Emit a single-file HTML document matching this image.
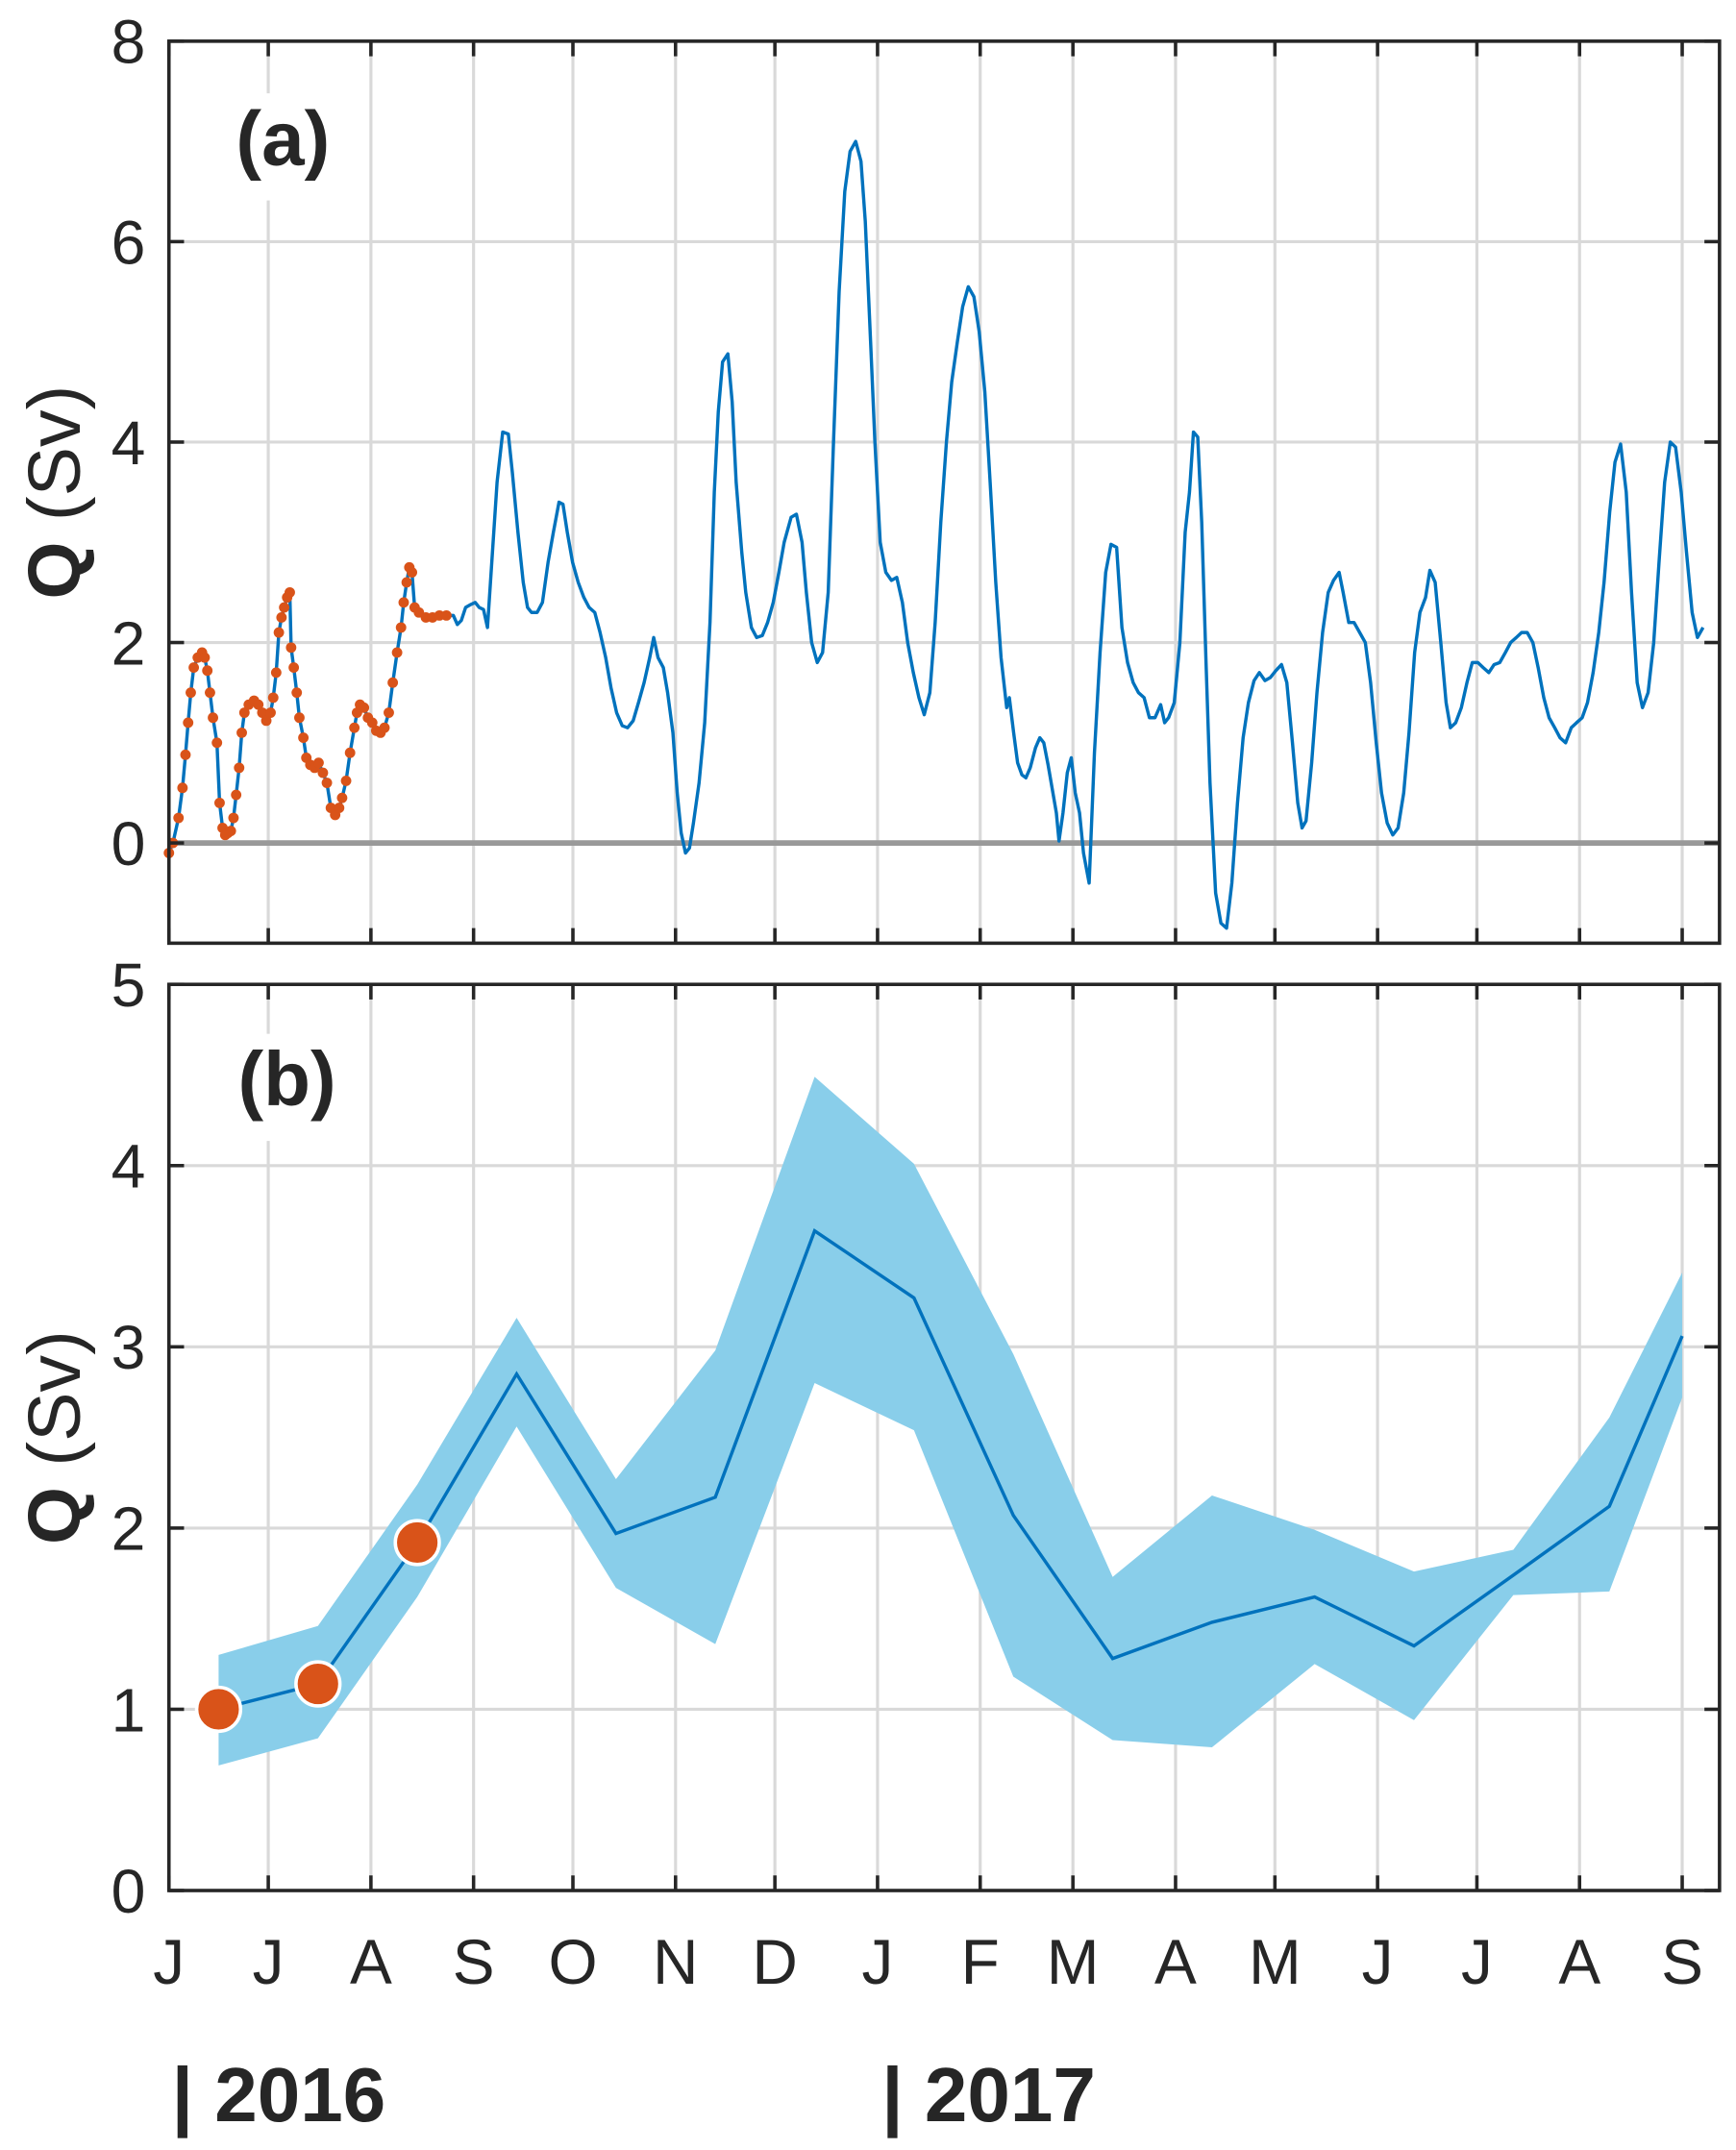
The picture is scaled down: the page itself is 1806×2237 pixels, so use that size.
<!DOCTYPE html>
<html><head><meta charset="utf-8"><style>
html,body{margin:0;padding:0;background:#fff;}
svg{display:block;}
text{font-family:"Liberation Sans",Arial,sans-serif;fill:#262626;}
</style></head><body>
<svg id="chart" xmlns="http://www.w3.org/2000/svg" width="1806" height="2237" viewBox="0 0 1264 1566" preserveAspectRatio="none">
<g id="gA"></g>
<g id="gB"></g>
<g id="gX"></g>
</svg>
<script>
// ---- data (days since 1 Jun 2016) ----
const monthDays = [0,30,61,92,122,153,183,214,245,273,304,334,365,395,426,457];
const monthLabels = ["J","J","A","S","O","N","D","J","F","M","A","M","J","J","A","S"];
const yTicksA = [0,2,4,6,8];
const yTicksB = [0,1,2,3,4,5];
const obsCutoffDay = 84;
const dailyDays = [0,1.2,2.9,4.1,5.0,5.8,6.6,7.5,8.7,10.0,10.8,11.6,12.4,13.3,14.5,15.3,16.2,17.0,17.8,18.7,19.5,20.3,21.2,22.0,22.8,24.1,25.7,27.0,28.2,29.4,30.7,31.5,32.4,33.2,34.0,34.8,35.7,36.5,36.9,37.7,38.6,39.4,40.6,41.5,42.7,44.0,45.2,46.5,47.7,48.9,50.2,51.4,52.3,53.5,54.7,56.0,56.8,57.7,58.9,60.1,61.4,62.6,63.9,65.1,66.4,67.6,68.9,70.1,70.9,71.8,72.6,73.4,74.2,75.5,77.6,79.6,81.7,83.8,
85.9,87.1,88.3,89.6,91.2,92.5,93.7,95.0,96.2,97.5,99.1,100.8,102.5,103.7,105.4,107.0,108.3,109.5,111.2,112.8,114.5,116.1,117.8,119.0,120.3,121.9,123.6,125.3,126.9,128.6,130.2,131.9,133.5,135.2,136.9,138.5,140.2,141.8,143.5,145.2,146.4,147.7,149.3,150.6,152.2,153.5,154.7,156.0,157.2,158.4,160.1,161.8,163.4,164.7,165.9,167.2,168.8,170.1,171.3,173.0,174.2,175.9,177.5,179.2,180.8,182.5,184.2,185.8,187.9,189.5,191.2,192.5,194.1,195.8,197.4,199.1,200.7,202.4,204.1,205.7,207.4,209.0,210.3,211.9,213.2,214.8,216.5,218.2,219.8,221.5,223.1,224.8,226.5,228.1,229.8,231.4,233.1,234.8,236.4,238.1,239.7,241.4,243.1,244.7,246.4,248.0,249.7,251.3,253.0,253.8,255.1,256.3,257.6,258.8,260.1,261.7,263.0,264.2,265.5,266.7,268.0,268.8,270.0,271.3,272.5,273.7,275.0,276.2,277.9,279.5,281.2,282.9,284.5,286.2,287.8,289.5,291.2,292.8,294.5,296.1,297.8,299.5,300.7,301.9,303.6,305.3,306.9,308.2,309.4,310.7,311.9,313.2,314.4,316.1,317.7,319.4,321.0,322.7,324.4,326.0,327.7,329.3,331.0,332.6,334.3,336.0,337.6,339.3,340.9,342.2,343.4,345.1,346.7,348.4,350.1,351.7,353.4,354.6,356.3,357.9,359.6,361.3,362.9,364.6,366.2,367.9,369.6,371.2,372.9,374.5,376.2,377.8,379.5,380.8,382.4,384.1,385.7,387.0,388.6,390.3,392.0,393.6,395.3,396.9,398.6,400.2,401.9,403.6,405.2,406.9,408.5,410.2,411.9,413.5,415.2,416.8,418.5,420.1,421.8,423.5,425.1,426.8,428.4,430.1,431.8,433.4,435.1,436.7,438.4,440.1,441.7,443.4,445.0,446.7,448.4,450.0,451.7,453.4,455.0,456.7,458.3,460.0,461.6,463.3];
const dailyQ = [-0.1,0.0,0.25,0.55,0.88,1.2,1.5,1.75,1.85,1.9,1.85,1.72,1.5,1.25,1.0,0.4,0.15,0.08,0.1,0.12,0.25,0.48,0.75,1.1,1.3,1.38,1.42,1.38,1.3,1.22,1.3,1.45,1.7,2.1,2.25,2.35,2.45,2.5,1.95,1.75,1.5,1.25,1.05,0.85,0.78,0.75,0.8,0.7,0.6,0.35,0.28,0.35,0.45,0.62,0.9,1.15,1.3,1.38,1.35,1.25,1.2,1.12,1.1,1.15,1.3,1.6,1.9,2.15,2.4,2.6,2.75,2.7,2.35,2.3,2.25,2.25,2.27,2.27,
2.27,2.18,2.22,2.35,2.38,2.4,2.35,2.33,2.15,2.8,3.6,4.1,4.08,3.7,3.1,2.6,2.35,2.3,2.3,2.4,2.8,3.1,3.4,3.38,3.1,2.8,2.6,2.45,2.35,2.3,2.1,1.85,1.55,1.3,1.17,1.15,1.22,1.4,1.6,1.85,2.05,1.85,1.75,1.5,1.1,0.5,0.1,-0.1,-0.05,0.2,0.6,1.2,2.2,3.5,4.3,4.8,4.88,4.4,3.6,2.9,2.5,2.15,2.05,2.07,2.2,2.4,2.7,3.0,3.25,3.28,3.0,2.5,2.0,1.8,1.9,2.5,4.0,5.5,6.5,6.9,7.0,6.8,6.2,5.0,4.0,3.0,2.7,2.62,2.65,2.4,2.0,1.7,1.45,1.28,1.5,2.2,3.2,4.0,4.6,5.0,5.35,5.55,5.45,5.1,4.5,3.6,2.6,1.85,1.35,1.45,1.1,0.8,0.68,0.65,0.75,0.95,1.05,1.0,0.78,0.55,0.3,0.02,0.3,0.7,0.85,0.5,0.3,-0.1,-0.4,0.9,1.9,2.7,2.98,2.95,2.15,1.8,1.6,1.5,1.45,1.25,1.25,1.38,1.2,1.25,1.4,2.0,3.1,3.5,4.1,4.05,3.2,1.8,0.6,-0.5,-0.8,-0.85,-0.4,0.4,1.05,1.4,1.62,1.7,1.62,1.65,1.72,1.78,1.6,1.0,0.4,0.15,0.22,0.8,1.5,2.1,2.5,2.62,2.7,2.5,2.2,2.2,2.1,2.0,1.6,1.0,0.5,0.2,0.08,0.15,0.5,1.1,1.9,2.3,2.45,2.72,2.6,2.0,1.4,1.15,1.2,1.35,1.6,1.8,1.8,1.75,1.7,1.78,1.8,1.9,2.0,2.05,2.1,2.1,2.0,1.75,1.45,1.25,1.15,1.05,1.0,1.15,1.2,1.25,1.4,1.7,2.1,2.6,3.3,3.8,3.98,3.5,2.5,1.6,1.35,1.5,2.0,2.8,3.6,4.0,3.95,3.5,2.9,2.3,2.05,2.15];
const monthlyDays = [15,45,75,105,135,165,195,225,255,285,315,346,376,406,435,457];
const monthlyMean = [1.0,1.14,1.92,2.85,1.97,2.17,3.64,3.27,2.07,1.28,1.48,1.62,1.35,1.74,2.12,3.06];
const monthlyUpper = [1.30,1.46,2.24,3.16,2.27,2.98,4.49,4.01,2.96,1.73,2.18,1.99,1.76,1.88,2.61,3.41];
const monthlyLower = [0.69,0.84,1.62,2.56,1.67,1.36,2.80,2.54,1.18,0.83,0.79,1.25,0.94,1.63,1.65,2.72];
const obsMonthlyDays = [15,45,75];
const obsMonthlyQ = [1.0,1.14,1.92];

const NS="http://www.w3.org/2000/svg";
const L=123,R=1252;
const xs=d=>L+d*2.411;
const yA=v=>30+(8-v)*73;
const yB=v=>717+(5-v)*132;
function mk(tag,attrs,parent){const e=document.createElementNS(NS,tag);for(const k in attrs)e.setAttribute(k,attrs[k]);parent.appendChild(e);return e;}
const gA=document.getElementById('gA'),gB=document.getElementById('gB'),gX=document.getElementById('gX');

function frame(g,top,bot,yf,ticks,name){
  monthDays.forEach(d=>{const x=xs(d);
    const gl=mk('line',{x1:x,x2:x,y1:top,y2:bot,stroke:'#d9d9d9','stroke-width':2.2},g);
    
    });
  ticks.forEach(v=>{const y=yf(v);
    const gl=mk('line',{x1:L,x2:R,y1:y,y2:y,stroke:'#d9d9d9','stroke-width':2.2},g);
    
    });
}
function axes(g,top,bot,yf,ticks,name){
  monthDays.forEach(d=>{const x=xs(d);
    mk('line',{x1:x,x2:x,y1:bot,y2:bot-11,stroke:'#262626','stroke-width':2.5},g);
    mk('line',{x1:x,x2:x,y1:top,y2:top+11,stroke:'#262626','stroke-width':2.5},g);});
  ticks.forEach(v=>{const y=yf(v);
    mk('line',{x1:L,x2:L+11,y1:y,y2:y,stroke:'#262626','stroke-width':2.5},g);
    mk('line',{x1:R,x2:R-11,y1:y,y2:y,stroke:'#262626','stroke-width':2.5},g);
    const t=mk('text',{x:106,y:y+16,'text-anchor':'end','font-size':45},g);t.textContent=v;
    
    });
  const fr=mk('rect',{x:L,y:top,width:R-L,height:bot-top,fill:'none',stroke:'#262626','stroke-width':2.5},g);
  
  
  const yl=mk('text',{transform:`translate(58,${(top+bot)/2}) rotate(-90)`,'text-anchor':'middle','font-size':54},g);
  yl.innerHTML='<tspan font-weight="bold">Q</tspan> (Sv)';
  
  
}

// Panel A
frame(gA,30,687,yA,yTicksA,'panel-a');
const zl=mk('line',{x1:L,x2:R,y1:yA(0),y2:yA(0),stroke:'#999','stroke-width':4},gA);


const la=mk('rect',{x:160,y:68,width:95,height:78,fill:'#fff'},gA);
const ta=mk('text',{x:206,y:120,'text-anchor':'middle','font-size':56,'font-weight':'bold',fill:'#000'},gA);ta.textContent='(a)';


const lineA=mk('polyline',{points:dailyDays.map((d,i)=>xs(d)+','+yA(dailyQ[i])).join(' '),fill:'none',stroke:'#0072BD','stroke-width':2.4,'stroke-linejoin':'round'},gA);


dailyDays.forEach((d,i)=>{if(d<=obsCutoffDay){
  const c=mk('circle',{cx:xs(d),cy:yA(dailyQ[i]),r:3.8,fill:'#D95319'},gA);
  
  }});
axes(gA,30,687,yA,yTicksA,'panel-a');

// Panel B
frame(gB,717,1377,yB,yTicksB,'panel-b');
const lb=mk('rect',{x:160,y:753,width:100,height:78,fill:'#fff'},gB);
const band=mk('polygon',{points:monthlyDays.map((d,i)=>xs(d)+','+yB(monthlyUpper[i])).concat(monthlyDays.slice().reverse().map((d,j)=>xs(d)+','+yB(monthlyLower[monthlyDays.length-1-j]))).join(' '),fill:'#89CEEA',stroke:'none'},gB);


const lineB=mk('polyline',{points:monthlyDays.map((d,i)=>xs(d)+','+yB(monthlyMean[i])).join(' '),fill:'none',stroke:'#0072BD','stroke-width':2.4},gB);


obsMonthlyDays.forEach((d,i)=>{
  const c=mk('circle',{cx:xs(d),cy:yB(obsMonthlyQ[i]),r:16,fill:'#D95319',stroke:'#fff','stroke-width':2.5},gB);
  
  });
const tb=mk('text',{x:209,y:805,'text-anchor':'middle','font-size':56,'font-weight':'bold',fill:'#000'},gB);tb.textContent='(b)';


axes(gB,717,1377,yB,yTicksB,'panel-b');

// X labels
monthDays.forEach((d,i)=>{
  const t=mk('text',{x:xs(d),y:1445,'text-anchor':'middle','font-size':46},gX);t.textContent=monthLabels[i];
  
  });
[["| 2016",125],["| 2017",642]].forEach(([s,x])=>{
  const t=mk('text',{x:x,y:1545,'font-size':56,'font-weight':'bold',fill:'#000'},gX);t.textContent=s;
  
  });
</script>
</body></html>
